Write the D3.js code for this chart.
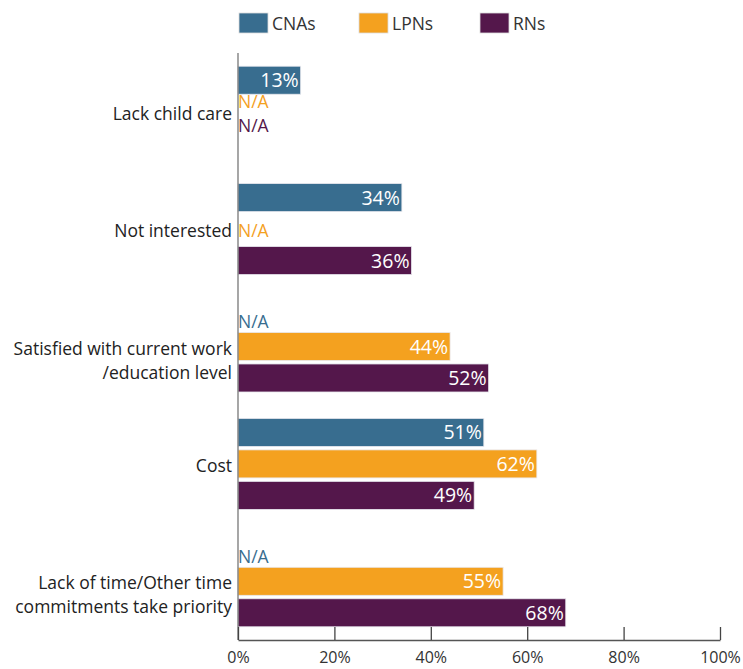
<!DOCTYPE html>
<html>
<head>
<meta charset="utf-8">
<script src="https://cdn.jsdelivr.net/npm/d3@7"></script>
<style>
  html, body { margin: 0; padding: 0; background: #fff; }
  svg { display: block; font-family: "Open Sans", "Noto Sans", sans-serif; }
</style>
</head>
<body>
<svg id="chart" width="743" height="669"></svg>
<script>
// ---- Data ----
const categories = [
  ["Lack child care"],
  ["Not interested"],
  ["Satisfied with current work", "/education level"],
  ["Cost"],
  ["Lack of time/Other time", "commitments take priority"]
];
const seriesNames = ["CNAs", "LPNs", "RNs"];
const seriesColors = ["#386d8f", "#f4a11f", "#54174b"];
const cnaValues = [13, 34, null, 51, null];
const lpnValues = [null, null, 44, 62, 55];
const rnValues  = [null, 36, 52, 49, 68];
const tickValues = [0, 20, 40, 60, 80, 100];
const naLabel = "N/A";

const seriesValues = [cnaValues, lpnValues, rnValues];

(function () {
// ---- Layout ----
const svg = d3.select("#chart");
const mLeft = 238, mRight = 720, mTop = 53, mBottom = 640;

const x = d3.scaleLinear().domain([0, 100]).range([mLeft, mRight]);
const catKeys = categories.map((c, i) => i);
const y0 = d3.scaleBand().domain(catKeys).range([mTop, mBottom])
  .paddingInner(0.225).paddingOuter(0.1125);
const y1 = d3.scaleBand().domain(seriesNames).range([0, y0.bandwidth()])
  .paddingInner(0.11).paddingOuter(0);

// ---- Bars ----
const rows = [];
categories.forEach((c, ci) => {
  seriesNames.forEach((s, si) => {
    rows.push({ ci, si, s, v: seriesValues[si][ci] });
  });
});

const g = svg.append("g");

g.selectAll("rect.bar")
  .data(rows.filter(d => d.v != null))
  .join("rect")
  .attr("class", "bar")
  .attr("x", x(0))
  .attr("y", d => y0(d.ci) + y1(d.s))
  .attr("width", d => x(d.v) - x(0))
  .attr("height", y1.bandwidth())
  .attr("fill", d => seriesColors[d.si])
  .attr("stroke", "#e8e8ee")
  .attr("stroke-width", 0.8);

g.selectAll("text.val")
  .data(rows.filter(d => d.v != null))
  .join("text")
  .attr("class", "val")
  .attr("x", d => x(d.v) - 2)
  .attr("y", d => y0(d.ci) + y1(d.s) + y1.bandwidth() / 2 + 7)
  .attr("text-anchor", "end")
  .attr("fill", "#fff")
  .attr("font-size", 19.5)
  .text(d => d.v + "%");

// N/A labels
function naY(d) {
  const vals = seriesValues.map(arr => arr[d.ci]);
  const rowTop = y0(d.ci) + y1(d.s);
  const rowBottom = rowTop + y1.bandwidth();
  const hasBarAbove = vals.slice(0, d.si).some(v => v != null);
  const hasBarBelow = vals.slice(d.si + 1).some(v => v != null);
  if (!hasBarAbove) return rowBottom - 1;
  if (!hasBarBelow) {
    let lastBar = -1;
    vals.forEach((v, i) => { if (v != null && i < d.si) lastBar = i; });
    const lastBottom = y0(d.ci) + y1(seriesNames[lastBar]) + y1.bandwidth();
    return lastBottom + 14 + (d.si - lastBar - 1) * 24;
  }
  return rowTop + y1.bandwidth() / 2 + 8;
}
g.selectAll("text.na")
  .data(rows.filter(d => d.v == null))
  .join("text")
  .attr("class", "na")
  .attr("x", x(0))
  .attr("y", d => naY(d))
  .attr("fill", d => seriesColors[d.si])
  .attr("font-size", 17.5)
  .text(naLabel);

// ---- Category labels ----
const catG = g.selectAll("text.cat")
  .data(categories)
  .join("text")
  .attr("class", "cat")
  .attr("text-anchor", "end")
  .attr("fill", "#222")
  .attr("font-size", 17.5);
catG.each(function(lines, i) {
  const t = d3.select(this);
  const cy = y0(i) + y0.bandwidth() / 2 + 8;
  lines.forEach((ln, k) => {
    t.append("tspan").attr("x", mLeft - 6).attr("y", cy + k * 24).text(ln);
  });
});

// ---- Axes ----
svg.append("line")
  .attr("x1", mLeft).attr("x2", mLeft)
  .attr("y1", mTop).attr("y2", mBottom)
  .attr("stroke", "#777").attr("stroke-width", 1.3);

const xAxis = d3.axisBottom(x).tickValues(tickValues)
  .tickSizeInner(-13).tickSizeOuter(0).tickPadding(12)
  .tickFormat(d => d + "%");
const ax = svg.append("g").attr("transform", `translate(0,${mBottom})`).call(xAxis);
ax.select(".domain").attr("stroke", "#555").attr("stroke-width", 1.3);
ax.selectAll(".tick line").attr("stroke", "#444").attr("stroke-width", 1.3);
ax.selectAll(".tick text")
  .attr("fill", "#333").attr("font-size", 16)
  .attr("font-family", "\"Open Sans\", sans-serif");

// ---- Legend ----
const legendX = [239, 359, 480];
const leg = svg.append("g").selectAll("g")
  .data(seriesNames)
  .join("g")
  .attr("transform", (d, i) => `translate(${legendX[i]},13)`);
leg.append("rect")
  .attr("width", 29).attr("height", 20)
  .attr("fill", (d, i) => seriesColors[i])
  .attr("stroke", "#ddd").attr("stroke-width", 0.8);
leg.append("text")
  .attr("x", 33).attr("y", 16.5)
  .attr("fill", "#333").attr("font-size", 17.5)
  .text(d => d);
})();
</script>
</body>
</html>
